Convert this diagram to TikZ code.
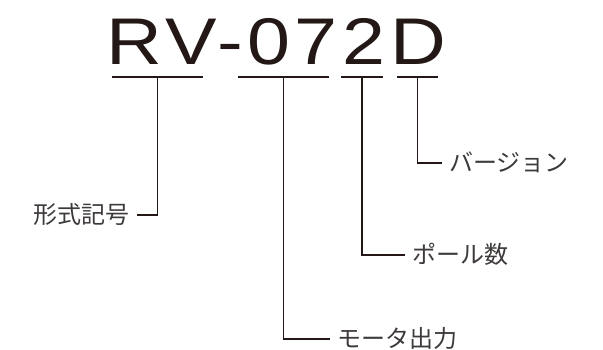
\documentclass[tikz,border=0pt]{standalone}
\usepackage{fontspec}
\setmainfont{Liberation Sans}
\newfontfamily\jpfont{Noto Sans CJK JP}
\usepackage{graphicx}
\usepackage{xcolor}
\definecolor{inkblack}{RGB}{35, 24, 21}
\definecolor{inkgray}{RGB}{62, 58, 57}
\usetikzlibrary{positioning}

\begin{document}
\begin{tikzpicture}[x=1pt, y=-1pt,
    lbl/.style={font=\jpfont\fontsize{24}{24}\selectfont, text=inkgray, inner xsep=7pt, inner ysep=0pt, text height=20pt, text depth=3pt},
    lead/.style={draw=inkblack, line width=1.3pt},
    bar/.style={draw=inkblack, line width=2.6pt}]
    \useasboundingbox (0,0) rectangle (603,350);

    % Model name
    \node[inner sep=0, anchor=base west, text=inkblack] (model) at (106,65)
        {\fontsize{66}{66}\selectfont\addfontfeatures{LetterSpace=6}\scalebox{1.17}[1]{RV-072D}};

    % Underlines below each part
    \foreach \n/\xa/\xb in {rv/112/203, num/238/329, pole/341/383, ver/397/438} {
        \draw[bar] (\xa,77) -- (\xb,77);
        \coordinate (\n) at ({(\xa+\xb)/2},77);
    }

    % Labels
    \node[lbl, anchor=east] (form) at (137,215) {形式記号};
    \node[lbl, anchor=west] (version) at (442,163) {バージョン};
    \node[lbl, anchor=west] (poles) at (405,255) {ポール数};
    \node[lbl, anchor=west] (motor) at (330,339) {モータ出力};

    % Leader lines
    \draw[lead] (rv) |- (form);
    \draw[lead] (ver) |- (version);
    \draw[lead] (pole) |- (poles);
    \draw[lead] (num) |- (motor);
\end{tikzpicture}
\end{document}
